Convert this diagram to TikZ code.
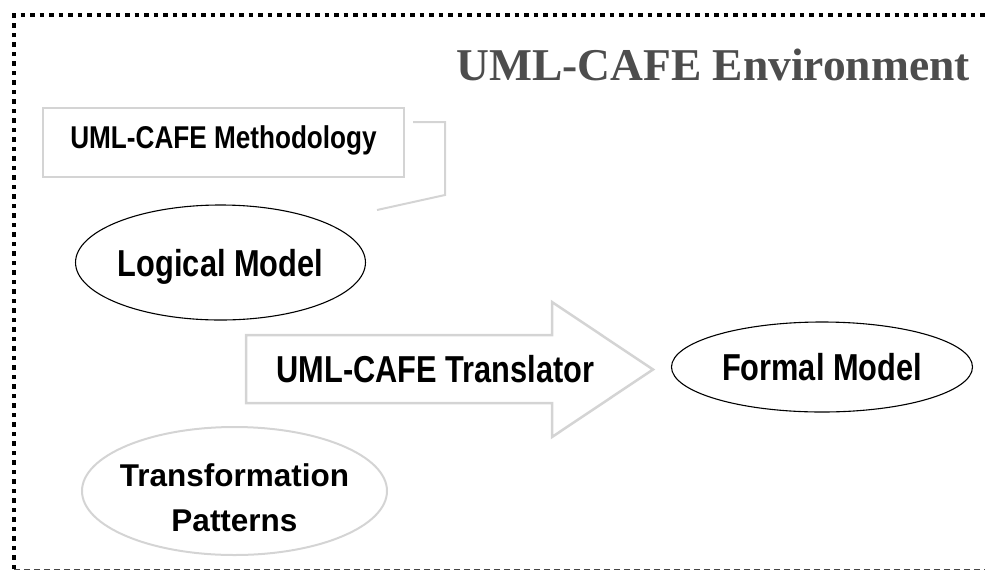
\documentclass[tikz,border=0pt]{standalone}
\usepackage{fontspec}
\setmainfont{Liberation Sans}
\newfontfamily\titlefont{Liberation Serif}
\usetikzlibrary{shapes.geometric}

\definecolor{paleline}{RGB}{212,212,212}
\definecolor{titlegray}{RGB}{77,77,77}
\definecolor{framegray}{RGB}{70,70,70}

% bold sans label: size, horizontal squeeze, text
\newcommand{\lbl}[3]{\scalebox{#2}[1]{\fontsize{#1}{#1}\selectfont\bfseries #3}}

\begin{document}
\begin{tikzpicture}[x=1pt,y=-1pt,
    framedots/.style={line width=4.5pt, dash pattern=on 4.5pt off 5pt},
    framedash/.style={line width=1.8pt, framegray, dash pattern=on 6pt off 4pt},
    plainoval/.style={ellipse, draw=black, line width=1.1pt, inner sep=0pt},
    paleoval/.style={ellipse, draw=paleline, line width=2pt, inner sep=0pt},
    palebox/.style={rectangle, draw=paleline, line width=2pt, inner sep=0pt},
    paleshape/.style={draw=paleline, line width=2.5pt, line join=miter}]
  \useasboundingbox (0,0) rectangle (985,571);

  % environment frame: dotted top and left, dashed bottom
  \draw[framedots] (14,569) -- (14,15) -- (995,15);
  \draw[framedash] (14,569.5) -- (995,569.5);

  % title
  \node[anchor=base east, inner sep=0pt, text=titlegray,
        font=\titlefont\bfseries\fontsize{45.5}{45.5}\selectfont]
        (title) at (970,80) {UML-CAFE Environment};

  % methodology box and its bracket
  \node[palebox, minimum width=361pt, minimum height=69pt,
        text height=22pt, text depth=11pt]
        (meth) at (223.5,142.5) {\lbl{31.5}{0.83}{UML-CAFE Methodology}\hspace{10pt}};
  \coordinate (brA) at (413,122);
  \coordinate (brB) at (445,122);
  \coordinate (brC) at (445,195);
  \coordinate (brD) at (377,210);
  \draw[paleline, line width=2pt] (brA) -- (brB) -- (brC) -- (brD);

  % logical model
  \node[plainoval, minimum width=285pt, minimum height=115pt,
        text height=27pt, text depth=0pt]
        (logical) at (220.5,262.5) {\lbl{37.5}{0.82}{Logical Model}};

  % translator block arrow
  \draw[paleshape] (246,335) -- (552,335) -- (552,302) -- (653,369.5)
        -- (552,437) -- (552,403) -- (246,403) -- cycle;
  \node[inner sep=0pt, text height=27pt, text depth=0pt]
        (translator) at (435.5,368.5) {\lbl{37.5}{0.82}{UML-CAFE Translator}};

  % formal model
  \node[plainoval, minimum width=301pt, minimum height=90pt,
        text height=27pt, text depth=0pt]
        (formal) at (822,367) {\lbl{37.5}{0.82}{Formal Model}};

  % transformation patterns
  \node[paleoval, minimum width=305pt, minimum height=128pt]
        (patterns) at (234.5,491) {};
  \node[inner sep=0pt, align=center, font=\fontsize{31}{45}\selectfont]
        (patternstext) at (234.5,498)
        {\lbl{31.5}{1}{Transformation}\\\lbl{31.5}{1}{Patterns}};
\end{tikzpicture}
\end{document}
